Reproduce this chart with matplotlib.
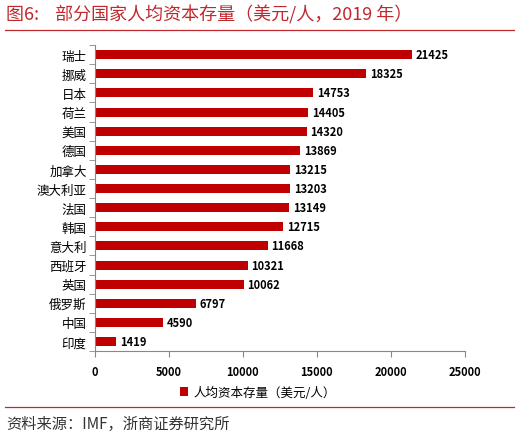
import matplotlib
matplotlib.use('Agg')
import matplotlib.pyplot as plt
from matplotlib.lines import Line2D

plt.rcParams['font.family'] = ['Noto Sans CJK SC', 'DejaVu Sans']

countries = ['瑞士', '挪威', '日本', '荷兰', '美国', '德国', '加拿大', '澳大利亚',
             '法国', '韩国', '意大利', '西班牙', '英国', '俄罗斯', '中国', '印度']
values = [21425, 18325, 14753, 14405, 14320, 13869, 13215, 13203,
          13149, 12715, 11668, 10321, 10062, 6797, 4590, 1419]
xticks = [0, 5000, 10000, 15000, 20000, 25000]

red = '#C00000'

fig = plt.figure(figsize=(5.2, 4.39), dpi=100)
ax = fig.add_axes([0.1827, 0.198, 0.711, 0.697])

pos = list(range(len(countries)))[::-1]
ax.barh(pos, values, height=0.47, color=red, label='人均资本存量（美元/人）')
for p, v in zip(pos, values):
    ax.text(v + 250, p, str(v), va='center', ha='left', fontsize=8,
            fontweight='bold', color='black')

ax.set_xlim(0, 25000)
ax.set_ylim(-0.5, len(countries) - 0.5)
ax.set_xticks(xticks)
ax.set_xticklabels([str(t) for t in xticks], fontsize=8, fontweight='bold')
ax.set_yticks(pos)
ax.set_yticklabels(countries, fontsize=9)
ax.set_yticks([p - 0.5 for p in range(len(countries) + 1)], minor=True)
ax.tick_params(axis='y', which='major', length=0, pad=6)
ax.tick_params(axis='y', which='minor', length=4, color='#888888')
ax.tick_params(axis='x', length=4, color='#888888', pad=6)
for s in ['top', 'right']:
    ax.spines[s].set_visible(False)
for s in ['left', 'bottom']:
    ax.spines[s].set_color('#888888')
    ax.spines[s].set_linewidth(0.8)

ax.legend(loc='center', bbox_to_anchor=(0.44, -0.134), frameon=False,
          fontsize=9, handlelength=0.7, handleheight=0.7, handletextpad=0.4)

fig.text(0.012, 0.965, '图6:    部分国家人均资本存量（美元/人，2019 年）',
         color='#C0282D', fontsize=13, va='center', ha='left')
fig.add_artist(Line2D([0.01, 0.988], [0.929, 0.929], color='#C0282D', lw=0.9))
fig.add_artist(Line2D([0.01, 0.988], [0.07, 0.07], color='#C0282D', lw=0.9))
fig.text(0.012, 0.032, '资料来源：IMF，浙商证券研究所', color='#333333',
         fontsize=11, va='center', ha='left')

fig.savefig('out.png', dpi=100)
